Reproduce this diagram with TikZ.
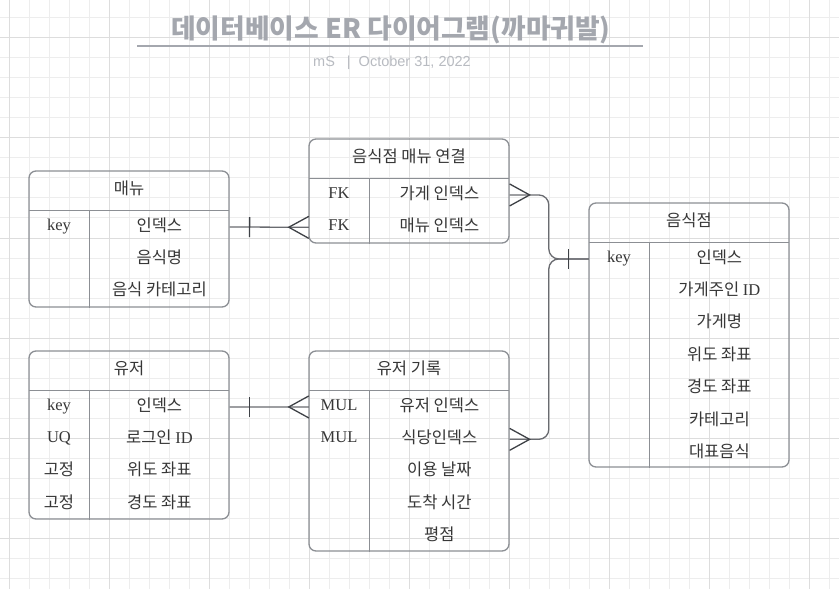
\documentclass[tikz,border=0pt]{standalone}
\usepackage{fontspec}
\setmainfont{Liberation Serif}
\newfontfamily\kr{Noto Sans CJK KR}
\newfontfamily\metafont{Liberation Sans}
\usetikzlibrary{positioning,decorations.markings}

\definecolor{gridminor}{RGB}{237,237,237}
\definecolor{gridmajor}{RGB}{221,221,221}
\definecolor{boxline}{RGB}{140,143,148}
\definecolor{linkline}{RGB}{105,107,112}
\definecolor{footline}{RGB}{62,65,70}
\definecolor{titlegray}{RGB}{164,167,174}
\definecolor{metagray}{RGB}{184,187,193}
\definecolor{celltext}{RGB}{55,55,55}

\begin{document}
\begin{tikzpicture}[
  x=1bp, y=-1bp,
  tbl/.style={draw=boxline, line width=1.3bp, rounded corners=7bp, minimum width=200bp, inner sep=0pt},
  hdr/.style={minimum width=200bp, minimum height=40bp, inner sep=0pt, text depth=5.5bp, text=celltext, font=\kr\fontsize{16.5bp}{20bp}\selectfont},
  keycell/.style={minimum width=60bp, minimum height=32bp, inner sep=0pt, text height=11bp, text depth=4bp, text=celltext, font=\fontsize{16.5bp}{20bp}\selectfont},
  fieldcell/.style={minimum width=140bp, minimum height=32bp, inner sep=0pt, text depth=5.5bp, text=celltext, font=\kr\fontsize{16.5bp}{20bp}\selectfont},
  rule/.style={draw=boxline, line width=1.3bp},
  conn/.style={draw=linkline, line width=1.3bp, rounded corners=10bp},
  foot/.style={draw=footline, line width=1.3bp, sharp corners},
  onebar/.style={postaction={decorate, decoration={markings,
      mark=at position #1 with {\draw[foot] (0bp,-10bp) -- (0bp,10bp);}}}},
  crowstart/.style={postaction={decorate, decoration={markings,
      mark=at position 20bp with {\draw[foot] (-20bp,11bp) -- (0bp,0bp) -- (-20bp,-11bp);}}}},
  crowend/.style={postaction={decorate, decoration={markings,
      mark=at position -20bp with {\draw[foot] (20bp,11bp) -- (0bp,0bp) -- (20bp,-11bp);}}}},
  gridthin/.style={draw=gridminor, line width=1bp},
  gridthick/.style={draw=gridmajor, line width=1bp}
]

\useasboundingbox (0,0) rectangle (839,589);
\fill[white] (0,0) rectangle (839,589);

% Grid
\foreach \gx in {9.5,29.5,...,829.5} \draw[gridthin] (\gx,0) -- (\gx,589);
\foreach \gy in {18,38,...,578} \draw[gridthin] (0,\gy) -- (839,\gy);
\foreach \gx in {9.5,109.5,...,809.5} \draw[gridthick] (\gx,0) -- (\gx,589);
\foreach \gy in {38,138,...,538} \draw[gridthick] (0,\gy) -- (839,\gy);

% Title
\node[text=titlegray, font=\kr\bfseries\fontsize{26.8bp}{32bp}\selectfont] (title) at (391,30) {데이터베이스 ER 다이어그램(까마귀발)};
\draw[draw=titlegray, line width=2bp] (137,46.5) -- (643,46.5);
\node[text=metagray, font=\metafont\fontsize{14.5bp}{17bp}\selectfont] (meta) at (392,63) {mS\hspace{12bp}|\hspace{8bp}October 31, 2022};

% 매뉴
\node[tbl, minimum height=136bp] (menu) at (129,239) {};
\node[hdr, below=0pt of menu.north] (menuh) {매뉴};
\draw[rule] (menuh.south west) -- (menuh.south east);
\node[keycell, below right=0pt of menuh.south west] (menuk1) {key};
\node[fieldcell, right=0pt of menuk1] (menuf1) {인덱스};
\node[fieldcell, below=0pt of menuf1] (menuf2) {음식명};
\node[fieldcell, below=0pt of menuf2] (menuf3) {음식 카테고리};
\draw[rule] (menuk1.north east) -- (menuk1.north east |- menu.south);

% 음식점 매뉴 연결
\node[tbl, minimum height=104bp] (link) at (409,191) {};
\node[hdr, below=0pt of link.north] (linkh) {음식점 매뉴 연결};
\draw[rule] (linkh.south west) -- (linkh.south east);
\node[keycell, below right=0pt of linkh.south west] (linkk1) {FK};
\node[keycell, below=0pt of linkk1] (linkk2) {FK};
\node[fieldcell, right=0pt of linkk1] (linkf1) {가게 인덱스};
\node[fieldcell, below=0pt of linkf1] (linkf2) {매뉴 인덱스};
\draw[rule] (linkk1.north east) -- (linkk1.north east |- link.south);

% 음식점
\node[tbl, minimum height=264bp] (shop) at (689,335) {};
\node[hdr, below=0pt of shop.north] (shoph) {음식점};
\draw[rule] (shoph.south west) -- (shoph.south east);
\node[keycell, below right=0pt of shoph.south west] (shopk1) {key};
\node[fieldcell, right=0pt of shopk1] (shopf1) {인덱스};
\node[fieldcell, below=0pt of shopf1] (shopf2) {가게주인 {\rmfamily ID}};
\node[fieldcell, below=0pt of shopf2] (shopf3) {가게명};
\node[fieldcell, below=0pt of shopf3] (shopf4) {위도 좌표};
\node[fieldcell, below=0pt of shopf4] (shopf5) {경도 좌표};
\node[fieldcell, below=0pt of shopf5] (shopf6) {카테고리};
\node[fieldcell, below=0pt of shopf6] (shopf7) {대표음식};
\draw[rule] (shopk1.north east) -- (shopk1.north east |- shop.south);

% 유저
\node[tbl, minimum height=168bp] (user) at (129,435) {};
\node[hdr, below=0pt of user.north] (userh) {유저};
\draw[rule] (userh.south west) -- (userh.south east);
\node[keycell, below right=0pt of userh.south west] (userk1) {key};
\node[keycell, below=0pt of userk1] (userk2) {UQ};
\node[keycell, below=0pt of userk2, text height=14bp, text depth=5.5bp] (userk3) {\kr 고정};
\node[keycell, below=0pt of userk3, text height=14bp, text depth=5.5bp] (userk4) {\kr 고정};
\node[fieldcell, right=0pt of userk1] (userf1) {인덱스};
\node[fieldcell, below=0pt of userf1] (userf2) {로그인 {\rmfamily ID}};
\node[fieldcell, below=0pt of userf2] (userf3) {위도 좌표};
\node[fieldcell, below=0pt of userf3] (userf4) {경도 좌표};
\draw[rule] (userk1.north east) -- (userk1.north east |- user.south);

% 유저 기록
\node[tbl, minimum height=200bp] (hist) at (409,451) {};
\node[hdr, below=0pt of hist.north] (histh) {유저 기록};
\draw[rule] (histh.south west) -- (histh.south east);
\node[keycell, below right=0pt of histh.south west] (histk1) {MUL};
\node[keycell, below=0pt of histk1] (histk2) {MUL};
\node[fieldcell, right=0pt of histk1] (histf1) {유저 인덱스};
\node[fieldcell, below=0pt of histf1] (histf2) {식당인덱스};
\node[fieldcell, below=0pt of histf2] (histf3) {이용 날짜};
\node[fieldcell, below=0pt of histf3] (histf4) {도착 시간};
\node[fieldcell, below=0pt of histf4] (histf5) {평점};
\draw[rule] (histk1.north east) -- (histk1.north east |- hist.south);

% Relations
\path (shopk1.west) ++(-40,0) coordinate (jn);
\draw[conn, onebar=20bp, crowend] (menuf1.east) -- (linkk2.west);
\draw[conn, onebar=20bp, crowend] (userf1.east) -- (histk1.west);
\draw[conn, crowstart, onebar=-20bp] (linkf1.east) -| (jn) -- (shopk1.west);
\draw[conn, crowstart, onebar=-20bp] (histf2.east) -| (jn) -- (shopk1.west);

\end{tikzpicture}
\end{document}
